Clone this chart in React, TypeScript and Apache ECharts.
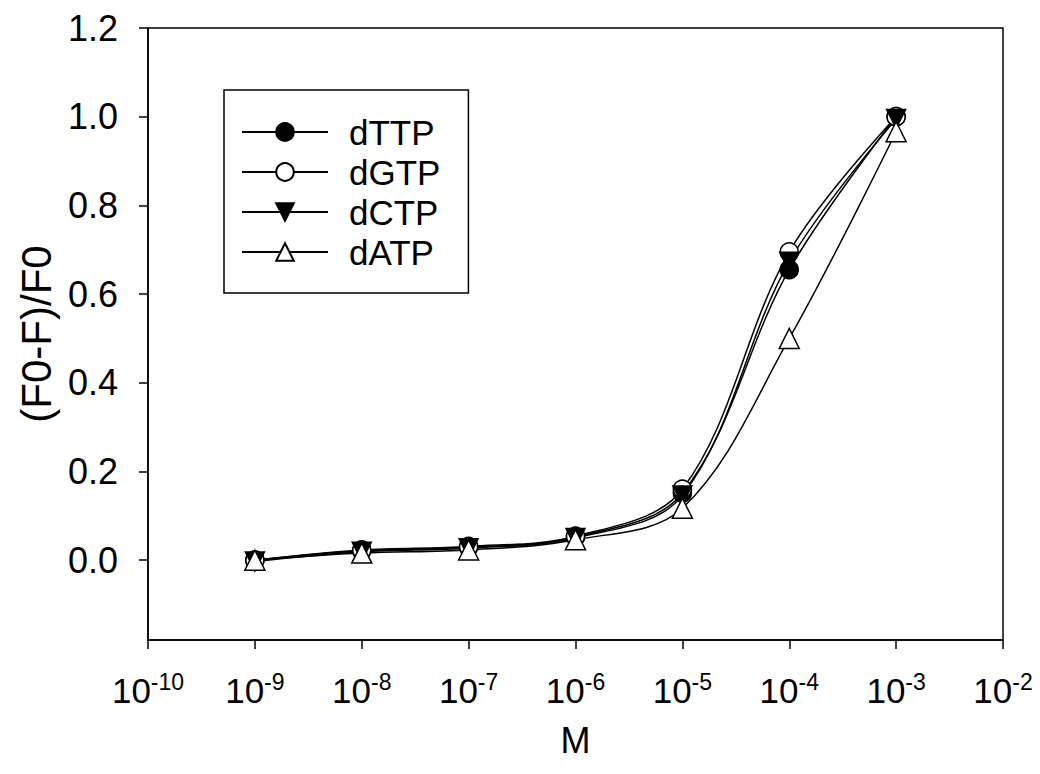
import React, { useEffect, useRef } from "react";
import * as echarts from "echarts";

const concentrations = [1e-9, 1e-8, 1e-7, 1e-6, 1e-5, 1e-4, 1e-3];
const dTTP = [0.0, 0.021, 0.029, 0.052, 0.151, 0.655, 1.0];
const dGTP = [0.0, 0.023, 0.031, 0.054, 0.16, 0.695, 1.0];
const dCTP = [-0.003, 0.019, 0.027, 0.05, 0.146, 0.673, 0.995];
const dATP = [0.0, 0.016, 0.023, 0.046, 0.117, 0.5, 0.966];
const yTicks = [0, 0.2, 0.4, 0.6, 0.8, 1.0, 1.2];

const FONT = "Liberation Sans, Arial, sans-serif";
const DOWN_TRI = "path://M0,0 L10,0 L5,9 Z";

const pairs = (ys: number[]) => concentrations.map((x, i) => [x, ys[i]]);

export default function App() {
  const ref = useRef<HTMLDivElement>(null);
  useEffect(() => {
    if (!ref.current) return;
    const chart = echarts.init(ref.current, null, { renderer: "svg" });
    const mk = (name: string, ys: number[], symbol: string, fill: string, size: number) => ({
      name,
      type: "line",
      data: pairs(ys),
      smooth: 0.35,
      symbol,
      symbolSize: size,
      showAllSymbol: true,
      lineStyle: { color: "#000", width: 1.5 },
      itemStyle: { color: fill, borderColor: "#000", borderWidth: 1.5 },
      emphasis: { disabled: true },
    });
    chart.setOption({
      animation: false,
      backgroundColor: "#fff",
      textStyle: { fontFamily: FONT },
      grid: {
        left: 148,
        right: 37,
        top: 28,
        bottom: 134,
        show: true,
        borderColor: "#000",
        borderWidth: 1.5,
        backgroundColor: "transparent",
      },
      legend: {
        orient: "vertical",
        left: 224,
        top: 90,
        padding: [22, 28, 21, 17],
        itemGap: 0,
        itemWidth: 86,
        itemHeight: 22,
        borderColor: "#000",
        borderWidth: 1.5,
        backgroundColor: "#fff",
        selectedMode: false,
        textStyle: { fontSize: 35, lineHeight: 40, color: "#000", fontFamily: FONT, padding: [0, 0, 0, 16] },
        data: ["dTTP", "dGTP", "dCTP", "dATP"],
      },
      xAxis: {
        type: "log",
        logBase: 10,
        min: 1e-10,
        max: 1e-2,
        interval: 1,
        name: "M",
        nameLocation: "middle",
        nameGap: 82,
        nameTextStyle: { fontSize: 36, color: "#000", fontFamily: FONT },
        axisLine: { onZero: false, lineStyle: { color: "#000", width: 1.5 } },
        axisTick: { inside: false, length: 9, lineStyle: { color: "#000", width: 1.5 } },
        splitLine: { show: false },
        minorTick: { show: false },
        axisLabel: {
          margin: 30,
          color: "#000",
          formatter: (v: number) => `{b|10}{s|${Math.round(Math.log10(v))}}`,
          rich: {
            b: { fontSize: 35, fontFamily: FONT, color: "#000" },
            s: { fontSize: 23, fontFamily: FONT, color: "#000", padding: [0, 0, 18, 0] },
          },
        },
      },
      yAxis: {
        type: "value",
        min: -0.18,
        max: 1.2,
        name: "(F0-F)/F0",
        nameLocation: "middle",
        nameGap: 90,
        nameTextStyle: { fontSize: 42, color: "#000", fontFamily: FONT },
        axisLine: { show: true, onZero: false, lineStyle: { color: "#000", width: 1.5 } },
        axisTick: { show: true, length: 9, customValues: yTicks, lineStyle: { color: "#000", width: 1.5 } },
        splitLine: { show: false },
        axisLabel: {
          margin: 30,
          fontSize: 36,
          color: "#000",
          fontFamily: FONT,
          customValues: yTicks,
          formatter: (v: number) => v.toFixed(1),
        },
      },
      series: [
        mk("dTTP", dTTP, "circle", "#000", 18),
        mk("dGTP", dGTP, "circle", "#fff", 18),
        mk("dCTP", dCTP, DOWN_TRI, "#000", 19),
        mk("dATP", dATP, "triangle", "#fff", 20),
      ],
    });
    return () => chart.dispose();
  }, []);
  return <div ref={ref} style={{ position: "fixed", left: 0, top: 0, width: 1040, height: 774 }} />;
}
